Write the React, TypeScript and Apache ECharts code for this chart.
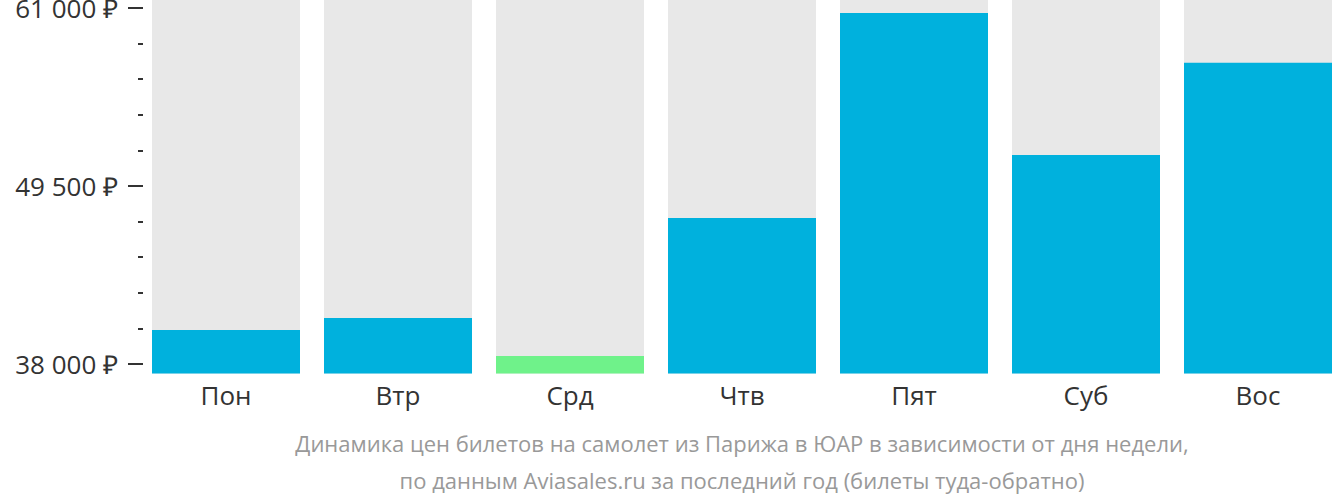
import React, { useEffect, useRef } from "react";
import * as echarts from "echarts";

const categories = ["Пон", "Втр", "Срд", "Чтв", "Пят", "Суб", "Вос"];
const prices = [40200, 40970, 38520, 47420, 60660, 51490, 57450];
const majorTicks = [38000, 49500, 61000];
const minorTicks = [40300, 42600, 44900, 47200, 51800, 54100, 56400, 58700];
const captionLines = [
  "Динамика цен билетов на самолет из Парижа в ЮАР в зависимости от дня недели,",
  "по данным Aviasales.ru за последний год (билеты туда-обратно)",
];

const axisMin = 37390;
const axisMax = 61500;
const BLUE = "#00b1dd";
const GREEN = "#6ff28a";

const fmt = (v: number) =>
  String(Math.round(v)).replace(/\B(?=(\d{3})+(?!\d))/g, " ") + " ₽";

export default function App() {
  const ref = useRef<HTMLDivElement>(null);
  useEffect(() => {
    if (!ref.current) return;
    const chart = echarts.init(ref.current, null, { renderer: "svg" });
    const minVal = Math.min(...prices);
    chart.setOption({
      animation: false,
      textStyle: { fontFamily: "Open Sans" },
      grid: {
        left: 140,
        top: 0,
        right: 0,
        bottom: 128.5,
        containLabel: false,
        outerBoundsMode: "none",
      },
      xAxis: {
        type: "category",
        data: categories,
        axisLine: { show: false },
        axisTick: { show: false },
        axisLabel: { fontSize: 26, color: "#333", margin: 8, fontFamily: "Open Sans" },
      },
      yAxis: [
        {
          type: "value",
          min: axisMin,
          max: axisMax,
          position: "left",
          offset: -3,
          splitLine: { show: false },
          axisLine: { show: false },
          axisTick: {
            show: true,
            customValues: majorTicks,
            length: 15,
            lineStyle: { color: "#333", width: 2 },
          },
          axisLabel: {
            customValues: majorTicks,
            formatter: (v: number) => fmt(v),
            fontSize: 26,
            color: "#333",
            margin: 25,
            fontFamily: "Open Sans",
            showMaxLabel: true,
            showMinLabel: true,
          },
        },
        {
          type: "value",
          min: axisMin,
          max: axisMax,
          position: "left",
          offset: -3,
          splitLine: { show: false },
          axisLine: { show: false },
          axisTick: {
            show: true,
            customValues: minorTicks,
            length: 5,
            lineStyle: { color: "#333", width: 2 },
          },
          axisLabel: { show: false },
        },
      ],
      series: [
        {
          type: "bar",
          yAxisIndex: 0,
          barWidth: 148,
          showBackground: true,
          backgroundStyle: { color: "#e8e8e8" },
          data: prices.map((v) => ({
            value: v,
            itemStyle: { color: v === minVal ? GREEN : BLUE },
          })),
        },
      ],
      graphic: captionLines.map((t, i) => ({
        type: "text",
        x: 742,
        y: 443 + i * 37,
        style: {
          text: t,
          fill: "#999",
          fontSize: 22,
          fontFamily: "Open Sans",
          textAlign: "center",
          textVerticalAlign: "middle",
        },
      })),
    });
    return () => chart.dispose();
  }, []);
  return (
    <div
      style={{
        position: "absolute",
        left: 0,
        top: 0,
        width: 1332,
        height: 502,
        overflow: "hidden",
      }}
    >
      <div ref={ref} style={{ width: 1344, height: 502 }} />
    </div>
  );
}
